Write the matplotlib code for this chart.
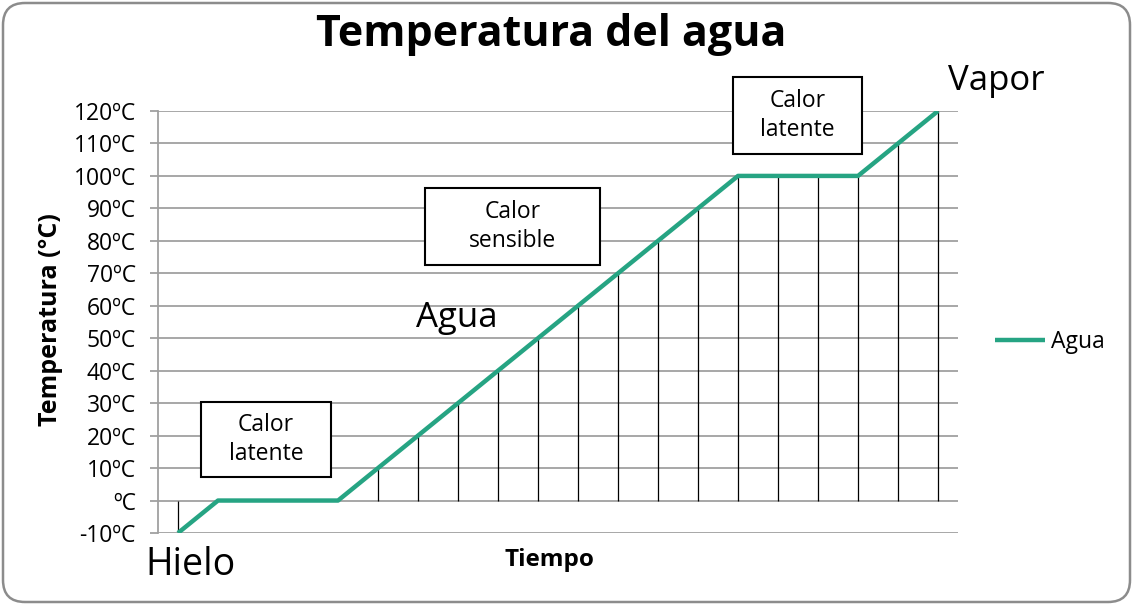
import matplotlib
matplotlib.use("Agg")
import matplotlib.pyplot as plt
import matplotlib.patches as mpatches
from matplotlib.transforms import IdentityTransform

plt.rcParams['font.family'] = ['Open Sans', 'DejaVu Sans']

# ---- data ----
tiempo = list(range(20))
temperatura = [-10, 0, 0, 0, 0, 10, 20, 30, 40, 50, 60, 70, 80, 90,
               100, 100, 100, 100, 110, 120]
y_ticks = [-10, 0, 10, 20, 30, 40, 50, 60, 70, 80, 90, 100, 110, 120]
y_tick_labels = ['-10ºC', 'ºC', '10ºC', '20ºC', '30ºC', '40ºC', '50ºC', '60ºC',
                 '70ºC', '80ºC', '90ºC', '100ºC', '110ºC', '120ºC']
serie_nombre = 'Agua'
titulo = 'Temperatura del agua'
x_label = 'Tiempo'
y_label = 'Temperatura (°C)'
estado_labels = ['Hielo', 'Agua', 'Vapor']
caja_labels = ['Calor\nlatente', 'Calor\nsensible', 'Calor\nlatente']

GREEN = '#26A483'
GRID = '#A0A0A0'

W, H = 1133, 605
fig = plt.figure(figsize=(W / 100, H / 100), dpi=100)
ax = fig.add_axes([158 / W, 1 - 533 / H, 800 / W, 422 / H])

ax.set_xlim(-0.5, len(tiempo) - 0.5)
ax.set_ylim(min(y_ticks), max(y_ticks))
ax.set_yticks(y_ticks)
ax.set_yticklabels(y_tick_labels, fontsize=16.5)
ax.set_xticks([])
ax.grid(axis='y', color=GRID, lw=1.3)
ax.set_axisbelow(True)
for s in ['top', 'right', 'bottom']:
    ax.spines[s].set_visible(False)
ax.spines['left'].set_color(GRID)
ax.spines['left'].set_linewidth(1.3)
ax.tick_params(axis='y', length=6, width=1.3, color=GRID, pad=10)

# drop lines
ax.vlines(tiempo, 0, temperatura, color='black', lw=0.9, zorder=2)
ax.plot(tiempo, temperatura, color=GREEN, lw=3.2, solid_capstyle='butt',
        label=serie_nombre, zorder=3)

# axis titles
fig.text(51 / W, 1 - 320 / H, y_label, fontsize=18, fontweight='bold',
         rotation=90, ha='center', va='center')
fig.text(549 / W, 1 - 560 / H, x_label, fontsize=17.5, fontweight='bold',
         ha='center', va='center')

fig.text(551.5 / W, 1 - 35 / H, titulo, fontsize=31, fontweight='bold',
         ha='center', va='center')

# state labels
fig.text(145 / W, 1 - 575 / H, estado_labels[0], fontsize=27, ha='left', va='baseline')
fig.text(416 / W, 1 - 327 / H, estado_labels[1], fontsize=25, ha='left', va='baseline')
fig.text(948 / W, 1 - 90 / H, estado_labels[2], fontsize=25, ha='left', va='baseline')

# boxes
cajas = [(201, 402, 331, 477), (425, 188, 600, 265), (733, 77, 862, 154)]
for (x0, y0, x1, y1), txt in zip(cajas, caja_labels):
    r = mpatches.Rectangle((x0, H - y1), x1 - x0, y1 - y0, transform=IdentityTransform(),
                           facecolor='white', edgecolor='black', lw=1.5, zorder=5)
    fig.add_artist(r)
    fig.text((x0 + x1) / 2 / W, 1 - (y0 + y1) / 2 / H, txt, fontsize=16.5,
             ha='center', va='center', linespacing=1.25, zorder=6)

# legend
leg = ax.legend(loc='center left', bbox_to_anchor=(995 / W, 1 - 342 / H),
                bbox_transform=fig.transFigure, frameon=False, fontsize=16.5,
                handlelength=2.2, handletextpad=0.25, borderpad=0, borderaxespad=0)

# outer rounded border
border = mpatches.FancyBboxPatch((3, 3), W - 6, H - 6,
                                 boxstyle='round,pad=0,rounding_size=22',
                                 transform=IdentityTransform(), facecolor='none',
                                 edgecolor='#8C8C8C', lw=1.8)
fig.add_artist(border)

fig.savefig('out.png', dpi=100)
